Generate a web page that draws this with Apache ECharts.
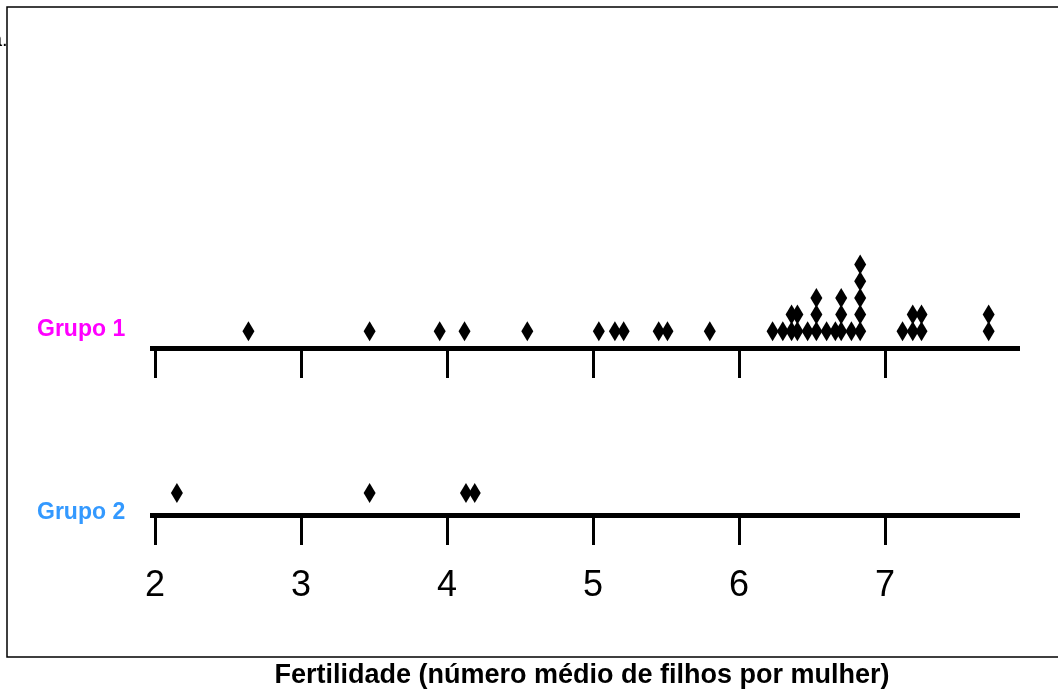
<!DOCTYPE html>
<html>
<head>
<meta charset="utf-8">
<script src="https://cdn.jsdelivr.net/npm/echarts@6/dist/echarts.min.js"></script>
<style>
html,body{margin:0;padding:0;background:#fff;}
#chart{width:1058px;height:693px;}
</style>
</head>
<body>
<div id="chart"></div>
<script>
// Data
var tickValues = [2, 3, 4, 5, 6, 7];
var group1Values = [2.64, 3.47, 3.95, 4.12, 4.55, 5.04, 5.15, 5.21, 5.45, 5.51, 5.80,
  6.23, 6.30, 6.36, 6.36, 6.40, 6.40, 6.47, 6.53, 6.53, 6.53, 6.60, 6.66,
  6.70, 6.70, 6.70, 6.77, 6.83, 6.83, 6.83, 6.83, 6.83,
  7.12, 7.19, 7.19, 7.25, 7.25, 7.71, 7.71];
var group2Values = [2.15, 3.47, 4.13, 4.19];
var groupNames = ['Grupo 1', 'Grupo 2'];
var axisTitle = 'Fertilidade (número médio de filhos por mulher)';

function stack(values) {
  var counts = {};
  return values.map(function (v) {
    var k = v.toFixed(2);
    counts[k] = (counts[k] || 0) + 1;
    return [v, counts[k]];
  });
}

var xMin = 2 - 5 / 146, xMax = 2 + 865 / 146;
function makeX(idx, showLabels) {
  return {
    gridIndex: idx, type: 'value', min: xMin, max: xMax,
    axisLine: { show: true, onZero: false, lineStyle: { color: '#000', width: 5, cap: 'butt' } },
    axisTick: { show: true, customValues: tickValues, length: 30, lineStyle: { color: '#000', width: 3 } },
    axisLabel: {
      show: showLabels, customValues: tickValues, margin: 53,
      fontFamily: '"Liberation Sans Narrow", "Arial Narrow", "Liberation Sans", Arial, sans-serif',
      fontSize: 36, color: '#000',
      formatter: function (v) { return String(Math.round(v)); }
    },
    splitLine: { show: false }
  };
}

var chart = echarts.init(document.getElementById('chart'), null, { renderer: 'canvas' });
chart.setOption({
  animation: false,
  backgroundColor: '#fff',
  grid: [
    { left: 150, right: 38, top: 14, height: 334 },
    { left: 150, right: 38, top: 493, height: 22 }
  ],
  xAxis: [makeX(0, false), makeX(1, true)],
  yAxis: [
    { gridIndex: 0, type: 'value', min: 0, max: 20, show: false },
    { gridIndex: 1, type: 'value', min: 0, max: 1, show: false }
  ],
  series: [
    { type: 'scatter', xAxisIndex: 0, yAxisIndex: 0, data: stack(group1Values),
      symbol: 'diamond', symbolSize: [12, 20], itemStyle: { color: '#000', opacity: 1 }, z: 5 },
    { type: 'scatter', xAxisIndex: 1, yAxisIndex: 1, data: stack(group2Values),
      symbol: 'diamond', symbolSize: [12, 20], itemStyle: { color: '#000', opacity: 1 }, z: 5 }
  ],
  graphic: [
    { type: 'rect', z: 0, shape: { x: 7, y: 7, width: 1100, height: 650 },
      style: { fill: 'none', stroke: '#000', lineWidth: 1.5 } },
    { type: 'text', x: -9, y: 30, z: -1,
      style: { text: 'a.', font: '20px "Liberation Sans", Arial, sans-serif', fill: '#000' } },
    { type: 'text', x: 37, y: 330, z: 10,
      style: { text: groupNames[0], font: 'bold 23px "Liberation Sans", Arial, sans-serif', fill: '#FF00FF', textVerticalAlign: 'middle' } },
    { type: 'text', x: 37, y: 513, z: 10,
      style: { text: groupNames[1], font: 'bold 23px "Liberation Sans", Arial, sans-serif', fill: '#3399FF', textVerticalAlign: 'middle' } },
    { type: 'text', x: 582, y: 676, z: 10,
      style: { text: axisTitle, font: 'bold 27px "Liberation Sans", Arial, sans-serif', fill: '#000', textAlign: 'center', textVerticalAlign: 'middle' } }
  ]
});
</script>
</body>
</html>
